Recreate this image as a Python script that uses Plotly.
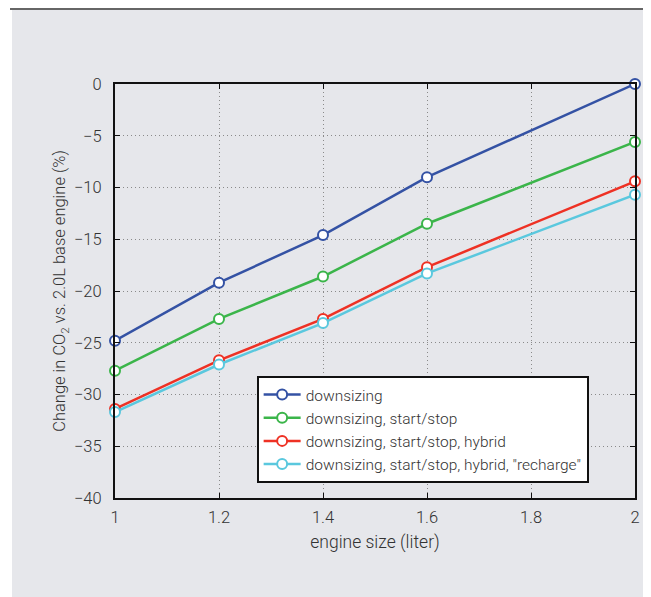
import plotly.graph_objects as go

engine_size = [1.0, 1.2, 1.4, 1.6, 2.0]
series_names = ["downsizing", "downsizing, start/stop", "downsizing, start/stop, hybrid",
                "downsizing, start/stop, hybrid, \"recharge\""]
downsizing = [-24.8, -19.2, -14.6, -9.0, 0.0]
start_stop = [-27.7, -22.7, -18.6, -13.5, -5.6]
hybrid = [-31.4, -26.7, -22.7, -17.7, -9.4]
recharge = [-31.7, -27.1, -23.1, -18.3, -10.7]
colors = ["#3452a4", "#3bb54a", "#ee3124", "#5ac8de"]

x_ticks = [1, 1.2, 1.4, 1.6, 1.8, 2]
x_labels = ["1", "1.2", "1.4", "1.6", "1.8", "2"]
y_ticks = [0, -5, -10, -15, -20, -25, -30, -35, -40]

FONT = "Roboto Light, Roboto, sans-serif"
TXT = "#333333"

fig = go.Figure()
for name, vals, c in zip(series_names, [downsizing, start_stop, hybrid, recharge], colors):
    fig.add_trace(go.Scatter(
        x=engine_size, y=vals, name=name, mode="lines+markers",
        line=dict(color=c, width=2.5),
        marker=dict(symbol="circle", size=10, color="white", line=dict(color=c, width=2)),
        cliponaxis=False,
    ))

# page body has an 8px margin; figure is sized to the remaining viewport
OFF = 8
W, H = 651 - OFF, 597 - OFF
L, R, T, B = 115 - OFF, 11, 84 - OFF, 99
pw, ph = W - L - R, H - T - B

def px(x):
    return (x - OFF - L) / pw

def py(y):
    return (H - B - (y - OFF)) / ph

fig.add_shape(type="rect", xref="paper", yref="paper", x0=px(11), x1=px(660), y0=py(610), y1=py(10),
              fillcolor="#e6e7eb", line=dict(width=0), layer="below")
fig.add_shape(type="line", xref="paper", yref="paper", x0=px(9), x1=px(660), y0=py(9), y1=py(9),
              line=dict(color="#333333", width=1.5))

axis_common = dict(
    showline=True, linecolor="#111111", linewidth=2, mirror="ticks",
    ticks="inside", ticklen=5, tickcolor="#111111", tickwidth=1,
    showgrid=True, gridcolor="#8a8a8a", gridwidth=1, griddash="1px,3px",
    zeroline=False, tickfont=dict(family=FONT, size=16.5, color=TXT),
)

fig.update_layout(
    width=W, height=H,
    margin=dict(l=L, r=R, t=T, b=B),
    paper_bgcolor="white", plot_bgcolor="white",
    font=dict(family=FONT, color=TXT),
    xaxis=dict(range=[1, 2], tickvals=x_ticks, ticktext=x_labels, ticklabelstandoff=3,
               title=dict(text="engine size (liter)", font=dict(family=FONT, size=17.5, color=TXT), standoff=10),
               **axis_common),
    yaxis=dict(range=[-40, 0], tickvals=y_ticks, ticklabelstandoff=8,
               title=dict(text="Change in CO<sub>2</sub> vs. 2.0L base engine (%)",
                          font=dict(family=FONT, size=16.5, color=TXT), standoff=4),
               **axis_common),
    legend=dict(x=px(258), y=py(376), xanchor="left", yanchor="top",
                bgcolor="white", bordercolor="#111111", borderwidth=2, itemwidth=37,
                font=dict(family=FONT, size=15.5, color=TXT), tracegroupgap=0),
    showlegend=True,
)

fig.write_html("out.html")
